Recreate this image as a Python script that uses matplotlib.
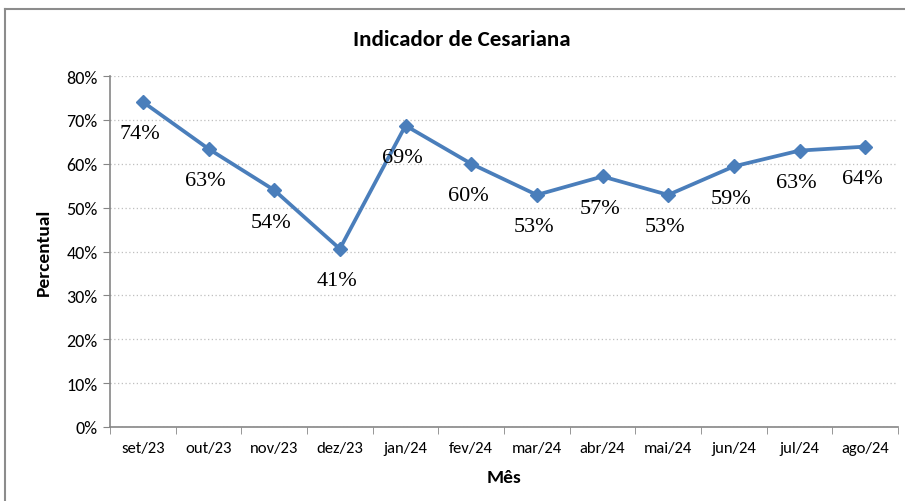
import matplotlib
matplotlib.use("Agg")
import matplotlib.pyplot as plt
from matplotlib.lines import Line2D
from matplotlib.ticker import FixedLocator, NullFormatter

months = ["set/23", "out/23", "nov/23", "dez/23", "jan/24", "fev/24",
          "mar/24", "abr/24", "mai/24", "jun/24", "jul/24", "ago/24"]
values = [74.1, 63.4, 54.0, 40.6, 68.7, 60.0, 52.9, 57.1, 52.9, 59.4, 63.0, 63.9]
labels = ["74%", "63%", "54%", "41%", "69%", "60%", "53%", "57%", "53%", "59%", "63%", "64%"]
yticks = [0, 10, 20, 30, 40, 50, 60, 70, 80]
ytick_labels = ["0%", "10%", "20%", "30%", "40%", "50%", "60%", "70%", "80%"]

sans = ["Carlito", "Liberation Sans Narrow", "Liberation Sans", "DejaVu Sans"]
serif = ["Liberation Serif", "DejaVu Serif"]
plt.rcParams["font.family"] = sans

W, H = 905, 502
fig = plt.figure(figsize=(W / 100, H / 100), dpi=100)
ax = fig.add_axes([110 / W, 1 - 428 / H, (898 - 110) / W, (428 - 77) / H])

x = list(range(len(months)))
ax.plot(x, values, color="#4A7EBB", lw=2.7, marker="D", ms=7, zorder=3)
for xi, v, lab in zip(x, values, labels):
    ax.annotate(lab, (xi, v), xytext=(-2, -23), textcoords="offset points",
                ha="center", va="center", fontsize=16, family=serif, color="black")

ax.set_xlim(-0.5, len(months) - 0.5)
ax.set_ylim(0, 80)
ax.set_yticks(yticks)
ax.set_yticklabels(ytick_labels, fontsize=13)
ax.set_xticks(x)
ax.set_xticklabels(months, fontsize=12)
ax.tick_params(axis="x", length=0, pad=10)
ax.xaxis.set_minor_locator(FixedLocator([i - 0.5 for i in range(len(months) + 1)]))
ax.xaxis.set_minor_formatter(NullFormatter())
ax.tick_params(axis="x", which="minor", length=5, color="#868686", direction="out")
ax.tick_params(axis="y", length=5, color="#868686", direction="out", pad=4)
ax.grid(axis="y", color="#BFBFBF", linestyle=(0, (1, 2)), lw=0.9)
ax.set_axisbelow(True)
for s in ["top", "right"]:
    ax.spines[s].set_visible(False)
for s in ["left", "bottom"]:
    ax.spines[s].set_color("#868686")
    ax.spines[s].set_linewidth(1.2)

ax.set_ylabel("Percentual", fontsize=14, fontweight="bold", labelpad=10)
ax.set_xlabel("Mês", fontsize=14, fontweight="bold", labelpad=10)
fig.text(462 / W, 1 - 40 / H, "Indicador de Cesariana", ha="center", va="center",
         fontsize=16.5, fontweight="bold")

# outer chart frame (top and left visible)
fig.add_artist(Line2D([5 / W, 1], [1 - 10 / H, 1 - 10 / H], color="#8C8C8C", lw=1.5,
                      transform=fig.transFigure))
fig.add_artist(Line2D([5 / W, 5 / W], [0, 1 - 10 / H], color="#8C8C8C", lw=1.5,
                      transform=fig.transFigure))

fig.savefig("out.png", dpi=100)
